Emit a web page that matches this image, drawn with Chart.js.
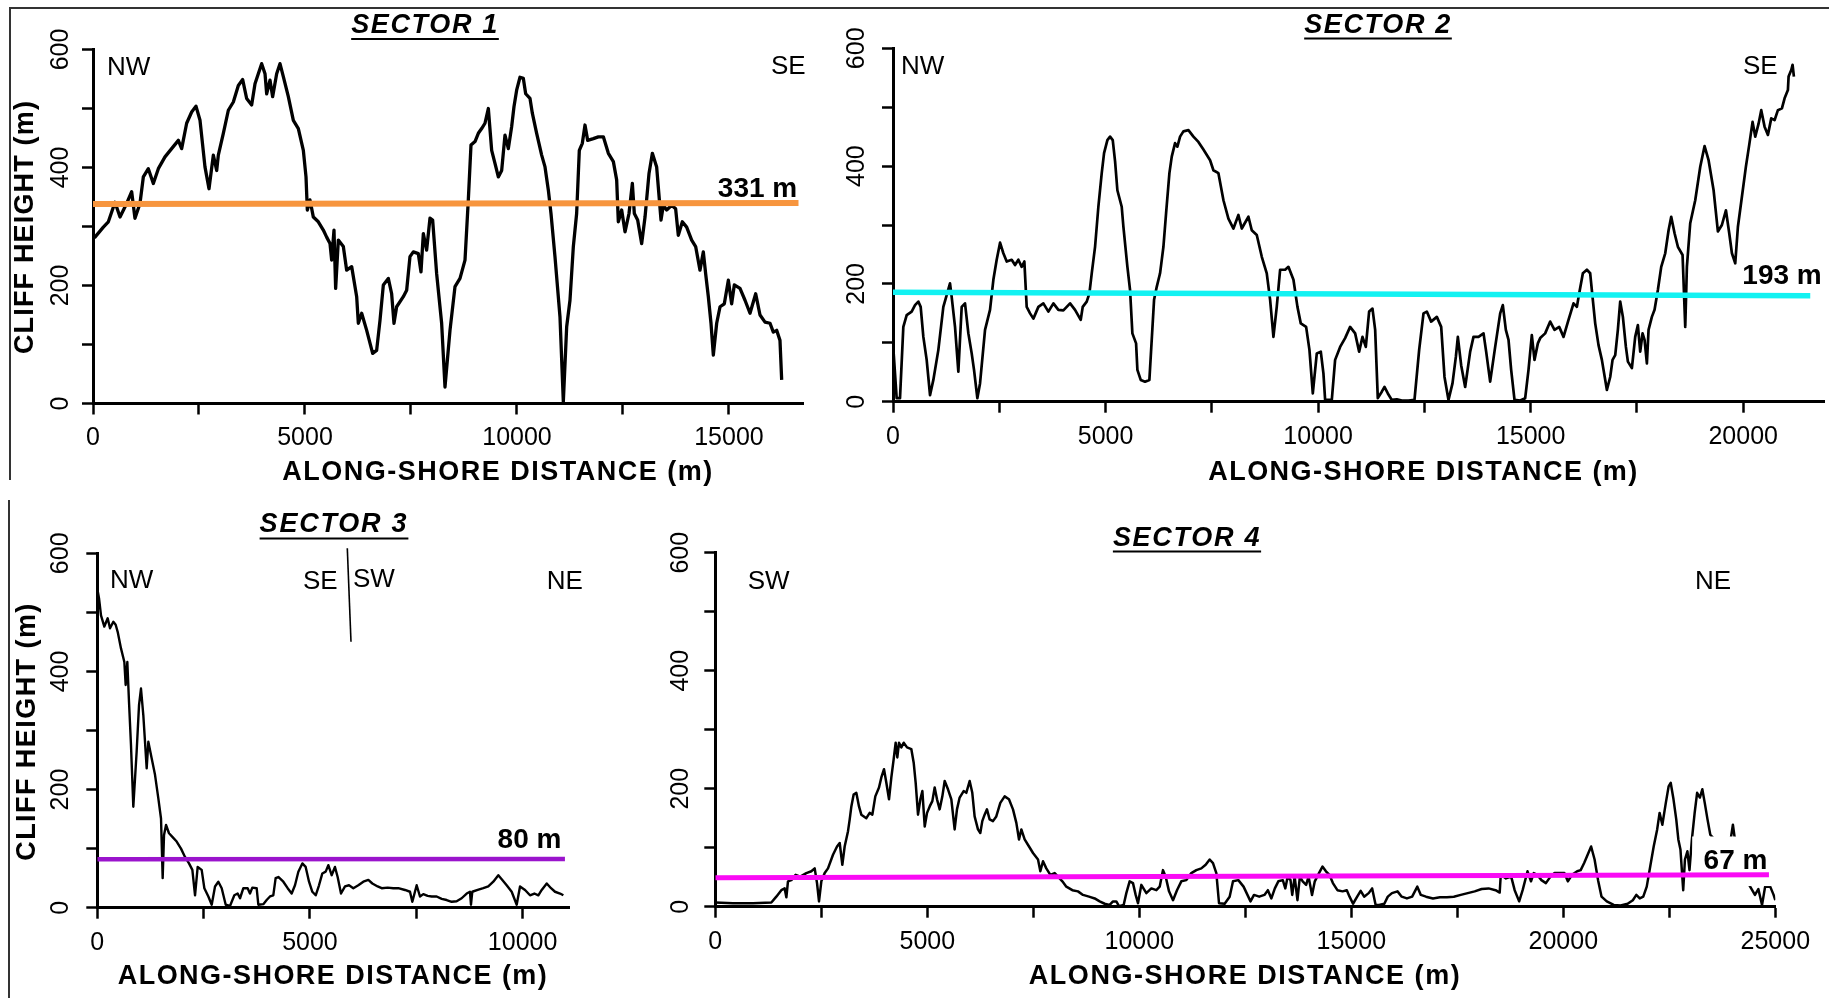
<!DOCTYPE html>
<html>
<head>
<meta charset="utf-8">
<script src="https://cdn.jsdelivr.net/npm/chart.js@4.4.1/dist/chart.umd.min.js"></script>
<style>
  html, body { margin: 0; padding: 0; background: #fff; }
  body { width: 1829px; height: 998px; position: relative; overflow: hidden; }
  canvas { position: absolute; }
  .ln { position: absolute; background: #333; }
</style>
</head>
<body>
<div class="ln" style="left:10px;top:7px;width:1819px;height:1.5px"></div>
<div class="ln" style="left:9px;top:7px;width:1.5px;height:473px"></div>
<div class="ln" style="left:8px;top:500px;width:1.5px;height:498px"></div>
<canvas id="c1" width="830" height="500" style="left:0px;top:0px"></canvas>
<canvas id="c2" width="989" height="500" style="left:840px;top:0px"></canvas>
<canvas id="c3" width="640" height="498" style="left:0px;top:500px"></canvas>
<canvas id="c4" width="1179" height="498" style="left:650px;top:500px"></canvas>
<script>
// ---------------- DATA ----------------
const yTickLabels = [0, 200, 400, 600];
const s1XTicks = [0, 5000, 10000, 15000];
const s2XTicks = [0, 5000, 10000, 15000, 20000];
const s3XTicks = [0, 5000, 10000];
const s4XTicks = [0, 5000, 10000, 15000, 20000, 25000];
const s1XTickMarks = [0, 2500, 5000, 7500, 10000, 12500, 15000];
const s2XTickMarks = [0, 2500, 5000, 7500, 10000, 12500, 15000, 17500, 20000];
const s3XTickMarks = [0, 2500, 5000, 7500, 10000];
const s4XTickMarks = [0, 2500, 5000, 7500, 10000, 12500, 15000, 17500, 20000, 22500, 25000];

// Sector 1 (NW -> SE)
const s1X = [0,47,244,362,519,637,794,912,990,1108,1187,1305,1423,1541,1698,1855,2013,2091,2209,2327,2429,2524,2641,2736,2838,2917,2956,3074,3192,3310,3428,3530,3624,3742,3821,3899,3978,4057,4096,4175,4237,4332,4410,4489,4607,4725,4843,4961,5024,5055,5118,5197,5314,5432,5511,5590,5629,5684,5723,5786,5904,5983,6101,6219,6258,6337,6455,6596,6690,6769,6848,6965,7044,7099,7162,7319,7398,7476,7555,7673,7736,7791,7869,7948,8011,8105,8223,8302,8420,8538,8656,8774,8852,8915,9010,9088,9167,9245,9324,9403,9481,9560,9639,9717,9796,9874,9929,9992,10071,10150,10205,10307,10362,10464,10582,10661,10739,10802,10896,11014,11093,11172,11250,11329,11407,11470,11541,11604,11667,11801,11919,12037,12155,12273,12351,12390,12469,12548,12642,12721,12768,12846,12941,13020,13114,13193,13294,13397,13452,13530,13648,13742,13805,13900,14002,14120,14214,14316,14395,14450,14513,14576,14631,14710,14789,14890,14985,15063,15126,15260,15378,15496,15630,15732,15850,15968,16046,16125,16203,16243];
const s1H = [280,282,299,308,341,316,339,359,314,339,384,398,373,398,418,432,446,432,475,494,504,480,401,364,421,395,421,458,497,511,539,549,517,506,542,559,576,559,525,548,520,559,576,554,520,480,466,429,384,328,345,316,308,294,282,271,243,294,195,277,266,226,232,181,136,153,124,85,90,141,201,212,186,136,164,181,192,249,257,254,223,288,260,314,311,220,136,28,124,198,212,243,345,438,444,458,466,475,500,429,407,384,395,455,432,469,503,531,553,551,525,517,492,458,421,401,362,322,249,147,3,130,175,266,322,429,441,472,446,449,452,452,424,410,379,308,328,291,322,373,322,311,271,316,390,424,401,311,336,328,336,330,285,308,299,277,266,226,257,220,181,136,82,136,164,169,209,169,201,195,175,153,186,150,138,136,121,124,107,40];
const s1MeanX = [0, 16640];
const s1MeanH = [338, 340];

// Sector 2 (NW -> SE)
const s2X = [0,86,165,243,322,439,518,596,651,714,792,871,949,1067,1184,1263,1341,1380,1459,1537,1616,1694,1773,1851,1906,1984,2047,2165,2282,2361,2439,2518,2596,2675,2792,2871,2949,3027,3090,3145,3224,3302,3420,3537,3655,3773,3890,4008,4165,4282,4416,4463,4557,4620,4675,4753,4831,4910,4965,5043,5106,5169,5224,5278,5380,5420,5514,5576,5631,5718,5749,5827,5929,6031,6086,6141,6204,6282,6361,6424,6502,6557,6635,6690,6753,6831,6949,7067,7184,7302,7459,7537,7655,7773,7890,8008,8125,8204,8361,8439,8557,8675,8792,8871,8949,9027,9106,9224,9302,9420,9514,9592,9718,9796,9875,9969,10063,10125,10165,10322,10400,10518,10635,10753,10871,
  10965,11044,11122,11200,11279,11342,11404,11498,11561,11640,11734,11851,11969,12126,12267,12377,12479,12557,12659,12793,12895,12973,13067,13161,13240,13287,13365,13459,13577,13655,13773,13891,13953,14047,14165,14283,14345,14416,14479,14541,14620,14753,14871,14949,15027,15090,15169,15224,15341,15459,15561,15671,15773,15890,16008,16087,16142,16228,16322,16400,16455,16518,16596,16675,16793,16871,16926,16989,17051,17106,17169,17240,17287,17381,17459,17522,17577,17632,17679,17734,17773,17851,17914,17993,18071,18165,18244,18306,18385,18463,18573,18636,18675,18753,18871,18989,19091,19185,19303,19404,19498,19593,19671,19734,19812,19875,19969,20063,20141,20220,20283,20361,20424,20502,20581,20659,20738,20816,20910,20973,21051,21067,21130,21161,21192];
const s2H = [99,6,6,127,147,153,164,170,161,110,71,11,37,88,161,181,201,178,127,51,161,167,116,82,54,6,31,122,156,207,241,270,252,238,241,232,241,229,238,161,150,141,161,167,153,167,156,155,167,156,139,161,170,184,218,263,331,388,422,444,450,444,408,359,331,297,229,190,116,99,54,37,34,37,105,173,195,218,263,320,388,416,439,433,450,459,461,450,441,428,410,393,388,342,311,294,317,294,314,291,283,246,218,173,110,161,224,224,229,207,161,133,127,88,14,82,85,48,3,3,71,93,108,127,116,
  85,110,93,153,158,122,6,17,25,14,3,4,2,2,3,88,150,153,136,144,127,42,3,31,76,110,62,25,85,110,110,116,85,34,93,150,164,122,105,54,3,2,6,54,113,71,99,108,116,136,122,127,110,139,167,161,184,218,224,218,178,133,96,71,20,42,71,79,122,170,144,93,68,57,110,130,85,116,105,65,122,144,156,190,229,252,291,314,286,263,249,127,229,303,342,399,434,410,359,289,300,325,286,252,235,297,348,399,436,475,450,472,495,467,453,481,478,495,498,515,529,552,563,572,552];
const s2MeanX = [0, 21577];
const s2MeanH = [186, 180];

// Sector 3 (NW -> SE | SW -> NE)
const s3X = [0,40,87,165,244,299,377,432,479,557,636,667,706,745,792,847,925,981,1027,1082,1161,1200,1278,1357,1435,1498,1537,1569,1616,1686,1765,1866,1968,2062,2156,2235,2298,2360,2454,2517,2611,2690,2768,2846,2925,3019,3120,3222,3300,3356,3434,3535,3590,3645,3747,3786,3903,3982,4060,4138,4193,4256,4374,4476,4570,4648,4727,4821,4899,4978,5056,5135,5213,5291,5370,5432,5510,5588,5651,5730,5824,5918,6020,6137,6255,6373,6467,6592,6686,6827,6959,7077,7234,7352,7407,7509,7587,7665,7767,7861,7979,8097,8214,8332,8449,8567,8685,8762,8786,8817,8943,9076,9193,9311,9429,9523,9625,9743,9861,9939,10057,10174,10276,10370,10449,10567,10668,10762,10880,10958];
const s3H = [540,524,495,476,490,473,484,479,467,439,416,377,416,349,275,171,264,343,371,326,236,281,253,225,185,151,50,123,140,126,120,112,100,86,75,64,21,69,64,33,19,5,36,44,33,5,3,21,24,16,33,33,24,34,33,5,6,13,19,21,50,52,44,33,24,38,61,75,69,44,27,21,38,58,61,72,55,69,52,24,36,38,33,38,44,47,41,36,33,34,33,33,30,27,10,38,19,23,20,19,19,15,13,10,11,16,24,27,5,27,30,33,36,44,55,47,38,27,5,36,30,21,24,21,30,41,33,27,24,21];
const s3MeanX = [0, 10995];
const s3MeanH = [82, 82.5];

// Sector 4 (SW -> NE)
const s4X = [0,417,889,1322,1439,1557,1636,1676,1714,1793,1895,2005,2147,2265,2344,2399,2446,2501,2580,2658,2776,2871,2934,2996,3051,3130,3170,3209,3263,3326,3389,3444,3562,3641,3704,3774,3861,3916,3979,4034,4097,4152,4207,4254,4293,4333,4388,4443,4522,4624,4679,4726,4781,4836,4884,4939,4994,5057,5119,5174,5229,5292,5355,5410,5488,5567,5645,5700,5763,5857,5920,5999,6061,6116,6195,6250,6297,6352,6407,6470,6549,6627,6722,6824,6926,7021,7100,7163,7218,7296,7399,7493,7611,7666,7729,7807,7902,8004,8083,8185,8279,8421,8554,8672,8814,8948,9065,9183,9301,9380,9458,9521,9631,9694,9772,9851,9914,9969,10048,10166,10284,10402,10481,10559,10622,10701,10795,10889,10991,11109,11227,11345,11463,11565,11660,11738,11817,11880,12013,12131,12210,
  12336,12459,12623,12705,12828,12951,13033,13115,13197,13279,13385,13443,13500,13566,13607,13664,13730,13787,13853,13935,13992,14074,14139,14238,14320,14402,14484,14566,14672,14795,14894,14959,15041,15139,15221,15303,15410,15492,15574,15656,15779,15861,15959,16090,16189,16312,16435,16557,16640,16762,16926,17090,17254,17418,17582,17746,17910,18074,18238,18402,18500,18525,18648,18771,18853,18959,19041,19156,19238,19303,19385,19484,19590,19697,19795,19918,20025,20107,20205,20328,20410,20492,20574,20656,20738,20820,20902,21025,21189,21353,21517,21640,21722,21804,21886,21968,22050,22132,22214,22271,22336,22418,22484,22533,22599,22664,22713,22763,22828,22869,22927,22976,23033,23098,23156,23221,23279,23336,23401,23467,
  23555,23700,23850,23960,24000,24040,24150,24300,24400,24520,24600,24687,24760,24880,24960,25000];
const s4H = [7,6,6,7,17,28,31,16,43,45,54,51,57,60,65,40,9,43,57,65,88,102,108,71,102,128,148,170,190,193,170,156,150,159,156,187,202,219,233,210,182,219,250,278,253,278,270,278,270,267,244,210,156,182,196,136,159,170,179,202,182,165,187,213,199,182,131,165,185,196,193,213,193,153,131,125,145,156,165,148,145,153,176,187,182,165,142,114,131,114,102,91,80,60,77,65,54,57,51,43,34,28,26,20,17,14,9,5,3,9,9,1,3,23,43,40,20,6,37,23,31,28,34,62,51,26,11,28,43,45,57,62,65,71,80,74,57,6,5,17,43,
  45,34,9,20,17,20,28,14,31,43,45,31,51,45,20,51,11,51,43,37,51,20,43,57,68,60,54,40,28,26,28,17,5,17,27,17,23,31,3,3,5,17,23,26,17,14,17,34,20,17,14,16,16,17,20,23,26,30,31,28,24,54,48,51,28,9,28,60,43,57,54,45,40,51,57,57,57,43,54,60,62,74,88,102,80,45,17,9,3,2,5,11,20,14,17,34,68,102,131,159,139,176,204,210,182,148,114,97,28,80,94,62,114,159,193,185,199,176,148,122,
  115,80,70,120,139,118,80,45,35,20,30,3,34,34,20,11];
const s4MeanX = [0, 24850];
const s4MeanH = [49, 54];

// ---------------- RENDERING ----------------
const FONT = '"Liberation Sans", Arial, Helvetica, sans-serif';

function drawText(c, t, ox, oy) {
  c.save();
  c.font = t.font + ' ' + FONT;
  c.fillStyle = '#000';
  c.textBaseline = 'middle';
  c.textAlign = t.align || 'center';
  let w = c.measureText(t.text).width;
  const spaced = t.width && ('letterSpacing' in c);
  if (spaced) {
    const n = t.text.length;
    const sp = (t.width - w) / (n - 1);
    c.letterSpacing = sp.toFixed(2) + 'px';
    w = c.measureText(t.text).width;
  }
  c.translate(t.x - ox, t.y - oy);
  if (t.rot) c.rotate(t.rot);
  if (spaced && (t.align || 'center') === 'center') {
    c.textAlign = 'left';
    c.fillText(t.text, -w / 2, 0);
  } else {
    c.fillText(t.text, 0, 0);
  }
  if (t.underline) {
    c.strokeStyle = '#000';
    c.lineWidth = 2.2;
    c.beginPath();
    c.moveTo(-w / 2, t.underline - t.y);
    c.lineTo(w / 2, t.underline - t.y);
    c.stroke();
  }
  c.restore();
}

const decor = {
  id: 'decor',
  afterDatasetDraw(chart, args, o) {
    if (!o.mask || args.index !== 1) return;
    const xs = chart.scales.x, ys = chart.scales.y, c = chart.ctx, m = o.mask;
    const x1 = xs.getPixelForValue(m.x0), x2 = xs.getPixelForValue(m.x1);
    const y1 = ys.getPixelForValue(m.y1), y2 = ys.getPixelForValue(m.y0);
    c.save();
    c.fillStyle = '#fff';
    c.fillRect(x1, y1, x2 - x1, y2 - y1);
    c.restore();
  },
  afterDraw(chart, args, o) {
    const c = chart.ctx, ys = chart.scales.y, ca = chart.chartArea;
    c.save();
    c.fillStyle = '#000';
    c.font = '25px ' + FONT;
    c.textAlign = 'center';
    c.textBaseline = 'middle';
    yTickLabels.forEach(v => {
      const py = ys.getPixelForValue(v);
      c.save();
      c.translate(ca.left - o.yGap, py);
      c.rotate(-Math.PI / 2);
      c.fillText(String(v), 0, 0);
      c.restore();
    });
    c.restore();
    (o.lines || []).forEach(l => {
      c.save();
      c.strokeStyle = '#000';
      c.lineWidth = l.w;
      c.beginPath();
      c.moveTo(l.x1 - o.ox, l.y1 - o.oy);
      c.lineTo(l.x2 - o.ox, l.y2 - o.oy);
      c.stroke();
      c.restore();
    });
    o.texts.forEach(t => drawText(c, t, o.ox, o.oy));
  }
};

function makeChart(id, cfg) {
  const axisCommon = {
    grid: { display: true, drawOnChartArea: false, drawTicks: true, tickLength: 11, tickWidth: 2.5, tickColor: '#000' },
    border: { display: true, color: '#000', width: 3 }
  };
  return new Chart(document.getElementById(id), {
    type: 'line',
    data: {
      datasets: [
        { data: cfg.meanX.map((x, i) => ({ x, y: cfg.meanH[i] })), borderColor: cfg.meanColor, borderWidth: cfg.meanWidth, pointRadius: 0, borderCapStyle: 'butt', tension: 0 },
        { data: cfg.x.map((x, i) => ({ x, y: cfg.h[i] })), borderColor: '#000', borderWidth: cfg.lineWidth, pointRadius: 0, borderJoinStyle: 'round', tension: 0 }
      ]
    },
    options: {
      responsive: false,
      animation: false,
      devicePixelRatio: 1,
      events: [],
      layout: { padding: cfg.pad },
      plugins: {
        legend: { display: false },
        tooltip: { enabled: false },
        decor: cfg.decor
      },
      scales: {
        x: Object.assign({
          type: 'linear', min: 0, max: cfg.xMax,
          afterBuildTicks: s => { s.ticks = cfg.xMarks.map(v => ({ value: v })); },
          ticks: {
            autoSkip: false, maxRotation: 0, minRotation: 0,
            padding: 9, color: '#000', font: { family: FONT, size: 25 },
            callback: v => cfg.xTicks.includes(v) ? String(v) : ''
          },
          afterFit: s => { s.height = cfg.xH; }
        }, axisCommon),
        y: Object.assign({
          type: 'linear', min: 0, max: 600,
          ticks: { stepSize: 100, display: false },
          afterFit: s => { s.width = cfg.yW; }
        }, axisCommon)
      }
    },
    plugins: [decor]
  });
}

const ST = 'italic bold 27px';
const XT = 'bold 27px';
const DIR = '26px';
const ML = 'bold 28px';

makeChart('c1', {
  x: s1X, h: s1H, meanX: s1MeanX, meanH: s1MeanH, meanColor: '#F7953E', meanWidth: 6, lineWidth: 3.3,
  xMax: 16760, xTicks: s1XTicks, xMarks: s1XTickMarks, xH: 96.5, yW: 93, pad: { top: 49.5, right: 26.4, left: 0, bottom: 0 },
  decor: {
    ox: 0, oy: 0, yGap: 32,
    texts: [
      { text: 'SECTOR 1', font: ST, x: 425, y: 26, width: 146, underline: 39 },
      { text: 'NW', font: DIR, x: 107, y: 67.5, align: 'left' },
      { text: 'SE', font: DIR, x: 771, y: 67, align: 'left' },
      { text: '331 m', font: ML, x: 757.5, y: 189 },
      { text: 'ALONG-SHORE DISTANCE (m)', font: XT, x: 498, y: 473, width: 430 },
      { text: 'CLIFF HEIGHT (m)', font: XT, x: 26, y: 227, width: 253, rot: -Math.PI / 2 }
    ]
  }
});

makeChart('c2', {
  x: s2X, h: s2H, meanX: s2MeanX, meanH: s2MeanH, meanColor: '#12F2F2', meanWidth: 5.5, lineWidth: 2.7,
  xMax: 21900, xTicks: s2XTicks, xMarks: s2XTickMarks, xH: 98.3, yW: 53, pad: { top: 48.3, right: 5, left: 0, bottom: 0 },
  decor: {
    ox: 840, oy: 0, yGap: 36,
    texts: [
      { text: 'SECTOR 2', font: ST, x: 1378, y: 25.5, width: 146, underline: 38.5 },
      { text: 'NW', font: DIR, x: 901, y: 66.5, align: 'left' },
      { text: 'SE', font: DIR, x: 1743, y: 66.7, align: 'left' },
      { text: '193 m', font: ML, x: 1782, y: 276.7 },
      { text: 'ALONG-SHORE DISTANCE (m)', font: XT, x: 1423.5, y: 473, width: 429 }
    ]
  }
});

makeChart('c3', {
  x: s3X, h: s3H, meanX: s3MeanX, meanH: s3MeanH, meanColor: '#9A14CC', meanWidth: 4.5, lineWidth: 2.4,
  xMax: 11100, xTicks: s3XTicks, xMarks: s3XTickMarks, xH: 90.3, yW: 97.3, pad: { top: 53.3, right: 70.6, left: 0, bottom: 0 },
  decor: {
    ox: 0, oy: 500, yGap: 36,
    lines: [{ x1: 347.3, y1: 548.3, x2: 351, y2: 641.7, w: 1.6 }],
    texts: [
      { text: 'SECTOR 3', font: ST, x: 334, y: 525, width: 147, underline: 538.5 },
      { text: 'NW', font: DIR, x: 110, y: 581, align: 'left' },
      { text: 'SE', font: DIR, x: 303, y: 582, align: 'left' },
      { text: 'SW', font: DIR, x: 353, y: 580, align: 'left' },
      { text: 'NE', font: DIR, x: 546.7, y: 582, align: 'left' },
      { text: '80 m', font: ML, x: 529.5, y: 840 },
      { text: 'ALONG-SHORE DISTANCE (m)', font: XT, x: 333, y: 977, width: 429 },
      { text: 'CLIFF HEIGHT (m)', font: XT, x: 28, y: 731.5, width: 257, rot: -Math.PI / 2 }
    ]
  }
});

makeChart('c4', {
  x: s4X, h: s4H, meanX: s4MeanX, meanH: s4MeanH, meanColor: '#FA0AF5', meanWidth: 5, lineWidth: 2.5,
  xMax: 25000, xTicks: s4XTicks, xMarks: s4XTickMarks, xH: 91.3, yW: 65.3, pad: { top: 52.7, right: 53.7, left: 0, bottom: 0 },
  decor: {
    ox: 650, oy: 500, yGap: 34,
    mask: { x0: 23040, x1: 25400, y0: 35, y1: 119 },
    texts: [
      { text: 'SECTOR 4', font: ST, x: 1187, y: 539, width: 146.5, underline: 551.5 },
      { text: 'SW', font: DIR, x: 747.7, y: 581.7, align: 'left' },
      { text: 'NE', font: DIR, x: 1695, y: 582, align: 'left' },
      { text: '67 m', font: ML, x: 1735.5, y: 861 },
      { text: 'ALONG-SHORE DISTANCE (m)', font: XT, x: 1245, y: 977, width: 431 }
    ]
  }
});
</script>
</body>
</html>
